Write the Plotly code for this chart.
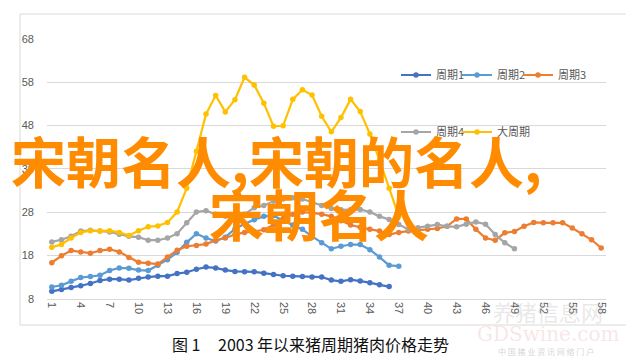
import plotly.graph_objects as go

# ---------------- data ----------------
series_names = ["周期1", "周期2", "周期3", "周期4", "大周期"]
series_colors = ["#4472C4", "#5B9BD5", "#ED7D31", "#A5A5A5", "#FFC000"]

cycle1 = [9.7, 10.1, 10.6, 11.0, 11.5, 12.2, 12.5, 12.5, 12.3, 12.7, 13.0, 13.2, 13.2, 13.8, 14.1,
          14.8, 15.3, 15.1, 14.6, 14.3, 14.2, 14.2, 13.9, 13.6, 13.3, 13.2, 13.1, 13.0, 13.0, 12.3,
          12.0, 12.4, 12.1, 11.7, 11.2, 10.8]
cycle2 = [10.7, 11.1, 12.0, 12.9, 13.1, 13.4, 14.5, 15.1, 15.0, 14.6, 14.5, 15.7, 17.0, 18.7, 21.0,
          23.0, 22.0, 21.3, 22.2, 24.1, 25.3, 26.2, 27.0, 27.2, 26.0, 25.0, 24.0, 22.4, 20.9, 19.5,
          20.1, 20.5, 20.5, 19.3, 17.6, 15.7, 15.5]
cycle3 = [16.3, 17.9, 19.1, 18.8, 18.5, 19.1, 19.4, 18.8, 17.5, 16.4, 16.2, 16.0, 17.6, 19.2, 20.1,
          20.3, 20.6, 21.5, 22.0, 22.8, 23.3, 23.5, 23.9, 25.0, 26.5, 27.5, 28.0, 27.8, 27.5, 27.0,
          26.0, 25.0, 24.5, 24.0, 23.6, 22.8, 23.3, 23.6, 23.8, 24.0, 24.2, 24.7, 26.4, 26.4, 24.0,
          22.0, 21.5, 23.2, 23.5, 24.7, 25.6, 25.5, 25.5, 25.5, 24.3, 23.0, 21.6, 19.7]
cycle4 = [21.1, 21.6, 22.4, 23.6, 23.8, 23.6, 23.4, 22.9, 22.4, 22.2, 21.5, 21.5, 22.0, 23.0, 25.5,
          28.0, 28.3, 27.5, 27.0, 26.8, 27.5, 29.0, 29.5, 30.5, 31.0, 31.3, 31.0, 30.3, 29.5, 28.8,
          28.5, 28.5, 28.6, 28.0, 27.0, 26.3, 25.1, 24.0, 24.4, 24.7, 25.1, 24.7, 24.6, 25.2, 25.7,
          25.2, 22.8, 20.9, 19.5]
big_cycle = [19.9, 20.5, 22.0, 23.3, 23.7, 23.6, 23.7, 23.3, 22.6, 23.7, 24.6, 24.8, 25.6, 28.0, 33.5,
             42.0, 50.6, 54.9, 51.1, 53.9, 59.1, 57.3, 53.1, 47.8, 47.9, 54.0, 56.2, 55.0, 50.1, 46.5,
             49.8, 54.0, 51.2, 46.0, 40.0, 33.5, 27.0]

x_ticks = list(range(1, 59, 3))
y_ticks = [8, 18, 28, 38, 48, 58, 68]

title_prefix = "图 1"
title_text = "2003 年以来猪周期猪肉价格走势"
overlay_line1 = "宋朝名人,宋朝的名人,"
overlay_line2 = "宋朝名人"

all_series = [cycle1, cycle2, cycle3, cycle4, big_cycle]

# ---------------- figure ----------------
W, H = 634, 358
fig = go.Figure()
legend_ids = ["legend", "legend2", "legend3", "legend4", "legend5"]
for name, color, vals, lg in zip(series_names, series_colors, all_series, legend_ids):
    fig.add_trace(go.Scatter(
        x=list(range(1, len(vals) + 1)), y=vals, name=name, mode="lines+markers",
        line=dict(color=color, width=2.2), marker=dict(color=color, size=5.5),
        legend=lg,
    ))

px_l, px_r = 39, 598
py_t, py_b = 30.7, 290.7
leg_font = dict(family="Noto Sans CJK SC, sans-serif", size=11, color="#595959")
tick_font = dict(family="Liberation Sans, Arial, sans-serif", size=11, color="#595959")

# legend entry positions (left px, centre px) : two rows like the reference
leg_pos = [(388, 76), (449, 76), (510, 76), (388, 133), (449, 133)]
legend_layout = {}
for lg, (lx, ly) in zip(legend_ids, leg_pos):
    legend_layout[lg] = dict(
        orientation="h", x=lx / W, y=(H - ly + 9) / H, xanchor="left", yanchor="middle",
        font=leg_font, bgcolor="rgba(0,0,0,0)", itemwidth=30,
    )

fig.update_layout(
    width=W, height=H,
    margin=dict(l=0, r=0, t=0, b=0),
    paper_bgcolor="white", plot_bgcolor="white",
    showlegend=True,
    xaxis=dict(
        domain=[px_l / W, px_r / W], range=[0.5, 58.5], automargin=False,
        tickmode="array", tickvals=x_ticks, ticktext=[str(v) for v in x_ticks],
        tickangle=90, showgrid=False, zeroline=False,
        showline=True, linecolor="#D9D9D9", linewidth=1,
        tickfont=tick_font, ticks="", fixedrange=True,
    ),
    yaxis=dict(
        domain=[(H - py_b) / H, (H - py_t) / H], range=[8, 68], automargin=False,
        tickmode="array", tickvals=y_ticks, ticktext=[str(v) for v in y_ticks],
        showgrid=True, gridcolor="#D9D9D9", gridwidth=1, zeroline=False,
        showline=False, ticks="", ticklabelstandoff=12,
        tickfont=tick_font, fixedrange=True,
    ),
    **legend_layout,
)

# chart-area border
fig.add_shape(type="rect", xref="paper", yref="paper",
              x0=12 / W, x1=624 / W, y0=(H - 317) / H, y1=(H - 6) / H,
              line=dict(color="#D9D9D9", width=1), layer="below")

# caption
cap_font = dict(family="Noto Sans CJK SC, sans-serif", size=16, color="#111111")
fig.add_annotation(text=title_prefix, xref="paper", yref="paper", x=162 / W, y=(H - 336) / H,
                   xanchor="left", yanchor="middle", showarrow=False, font=cap_font)
fig.add_annotation(text=title_text, xref="paper", yref="paper", x=208 / W, y=(H - 336) / H,
                   xanchor="left", yanchor="middle", showarrow=False, font=cap_font)

# faint watermark (bottom right)
fig.add_annotation(text="养猪信息网", xref="paper", yref="paper", x=540 / W, y=(H - 303) / H,
                   xanchor="center", yanchor="middle", showarrow=False,
                   font=dict(family="Noto Sans CJK SC, sans-serif", size=22, color="rgba(190,190,190,0.35)"))
fig.add_annotation(text="GDSwine.com", xref="paper", yref="paper", x=540 / W, y=(H - 326) / H,
                   xanchor="center", yanchor="middle", showarrow=False,
                   font=dict(family="DejaVu Serif, serif", size=20, color="rgba(240,200,200,0.45)"))
fig.add_annotation(text="中 国 猪 业 资 讯 网 络 门 户", xref="paper", yref="paper", x=538 / W, y=(H - 343) / H,
                   xanchor="center", yanchor="middle", showarrow=False,
                   font=dict(family="Noto Sans CJK SC, sans-serif", size=8, color="rgba(170,170,170,0.5)"))

# big orange overlay text
ov_font = dict(family="Noto Sans CJK SC, sans-serif", size=55, color="#FF8C00", weight="bold")
fig.add_annotation(text=overlay_line1, xref="paper", yref="paper", x=1 / W, y=(H - 151) / H,
                   xanchor="left", yanchor="middle", showarrow=False, font=ov_font)
fig.add_annotation(text=overlay_line2, xref="paper", yref="paper", x=311 / W, y=(H - 204) / H,
                   xanchor="center", yanchor="middle", showarrow=False, font=ov_font)

fig.write_html("out.html")
